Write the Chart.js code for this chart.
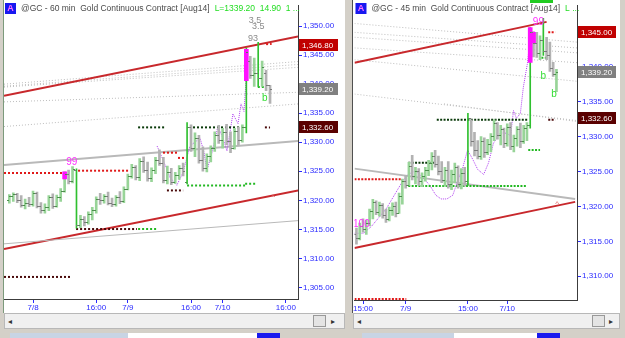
<!DOCTYPE html>
<html><head><meta charset="utf-8">
<script src="https://cdn.jsdelivr.net/npm/chart.js@4.4.0/dist/chart.umd.min.js"></script>
<style>
html,body{margin:0;padding:0;background:#d4d0c8;width:625px;height:338px;overflow:hidden}
canvas{position:absolute;display:block;background:#fff}
.d{position:absolute;box-sizing:border-box}
</style></head><body>
<div class="d" style="left:3px;top:0;width:1px;height:313px;background:#7c9a7c"></div>
<canvas id="c1" width="341" height="313" style="left:4px;top:0"></canvas>
<div class="d" style="left:352px;top:0;width:1px;height:313px;background:#505050"></div>
<canvas id="c2" width="267" height="313" style="left:353px;top:0"></canvas>
<!-- scrollbars -->
<div class="d" style="left:4px;top:313px;width:341px;height:16px;background:#f0f0f0;border:1px solid #b8b8b8"></div>
<div class="d" style="left:8px;top:317px;font:8px 'DejaVu Sans';color:#333">◂</div>
<div class="d" style="left:313px;top:315px;width:13px;height:12px;background:#e4e4e4;border:1px solid #999"></div>
<div class="d" style="left:331px;top:317px;font:8px 'DejaVu Sans';color:#333">▸</div>
<div class="d" style="left:353px;top:313px;width:267px;height:16px;background:#f0f0f0;border:1px solid #b8b8b8"></div>
<div class="d" style="left:357px;top:317px;font:8px 'DejaVu Sans';color:#333">◂</div>
<div class="d" style="left:592px;top:315px;width:13px;height:12px;background:#e4e4e4;border:1px solid #999"></div>
<div class="d" style="left:609px;top:317px;font:8px 'DejaVu Sans';color:#333">▸</div>
<!-- bottom tabs -->
<div class="d" style="left:10px;top:333px;width:118px;height:5px;background:#c8d4e4"></div>
<div class="d" style="left:128px;top:333px;width:129px;height:5px;background:#fff"></div>
<div class="d" style="left:257px;top:333px;width:23px;height:5px;background:#1a1aee"></div>
<div class="d" style="left:362px;top:333px;width:92px;height:5px;background:#c8d4e4"></div>
<div class="d" style="left:454px;top:333px;width:83px;height:5px;background:#fff"></div>
<div class="d" style="left:537px;top:333px;width:23px;height:5px;background:#1a1aee"></div>
<div class="d" style="left:530px;top:0;width:23px;height:3px;background:#22cc22"></div>
<script>
// ================= LEFT PANEL : @GC 60 min =================
const L_open  = [1320.0,1320.8,1321.0,1320.0,1319.2,1319.6,1319.3,1321.2,1319.0,1318.3,1318.9,1320.5,1319.0,1320.6,1321.6,1324.5,1323.3,1325.2,1315.8,1316.8,1316.2,1317.6,1318.4,1320.3,1320.0,1320.7,1319.6,1319.4,1320.5,1319.8,1322.0,1324.2,1325.8,1324.0,1326.8,1325.3,1323.8,1325.2,1327.0,1326.5,1323.5,1324.8,1323.2,1324.4,1325.6,1323.2,1332.6,1329.0,1330.8,1327.0,1325.6,1327.6,1329.0,1331.3,1330.4,1331.8,1330.2,1329.0,1331.9,1330.4,1332.7,1344.0,1341.6,1342.0,1341.0,1342.0,1339.8];
const L_high  = [1321.0,1321.3,1321.2,1320.8,1320.2,1320.5,1321.6,1321.4,1319.6,1319.4,1320.8,1321.1,1320.9,1322.0,1324.9,1325.2,1325.8,1325.4,1317.4,1317.2,1318.0,1318.8,1320.6,1321.2,1321.0,1321.4,1320.4,1320.8,1321.5,1322.3,1324.5,1326.2,1326.0,1327.2,1327.5,1326.6,1325.6,1327.4,1328.7,1327.4,1325.9,1325.5,1324.8,1326.0,1326.4,1333.4,1333.0,1331.6,1331.2,1329.2,1328.0,1329.4,1331.8,1332.9,1332.4,1333.1,1331.8,1332.4,1332.6,1333.0,1346.2,1344.8,1344.5,1347.2,1344.0,1342.4,1339.8];
const L_low   = [1319.5,1319.8,1319.6,1318.8,1318.5,1318.9,1319.0,1318.7,1317.8,1317.8,1318.2,1318.6,1318.8,1319.8,1321.4,1322.8,1323.0,1315.2,1315.3,1315.6,1315.9,1316.6,1317.8,1319.3,1319.5,1319.2,1318.9,1319.0,1319.4,1319.6,1321.8,1323.8,1323.5,1323.4,1324.8,1323.3,1323.2,1324.6,1326.0,1323.0,1322.8,1322.7,1322.9,1323.6,1324.2,1322.8,1328.4,1327.5,1326.4,1325.0,1324.9,1326.6,1328.4,1329.8,1329.0,1329.6,1328.2,1328.8,1329.5,1330.0,1331.6,1341.0,1339.6,1339.6,1339.6,1338.9,1336.7];
const L_close = [1320.8,1321.0,1320.0,1319.2,1319.6,1319.3,1321.2,1319.0,1318.3,1318.9,1320.5,1319.0,1320.6,1321.6,1324.5,1323.3,1325.4,1315.8,1316.8,1316.2,1317.6,1318.4,1320.3,1320.0,1320.7,1319.6,1319.4,1320.5,1319.8,1322.0,1324.2,1325.8,1324.0,1326.8,1325.3,1323.8,1325.2,1327.0,1326.5,1323.5,1324.8,1323.2,1324.4,1325.6,1325.0,1332.6,1329.0,1330.8,1327.0,1325.6,1327.6,1329.0,1331.3,1330.4,1331.8,1330.2,1329.0,1331.9,1330.4,1332.7,1345.5,1341.6,1342.0,1341.0,1343.0,1339.8,1339.2];
const L_hlIdx = [14, 60];
const L_hlLo  = [1323.7, 1340.6];
const L_hlHi  = [1324.9, 1346.0];
const L_timePos = [6, 22, 30, 46, 54, 70];
const L_timeLbl = ['7/8','16:00','7/9','16:00','7/10','16:00'];
const L_priceTicks = [1305,1310,1315,1320,1325,1330,1335,1340,1345,1350];
const L_boxPrices = [1346.8, 1339.2, 1332.6];
const L_redTrends  = [[[-1.35,1338.0],[73.1,1348.2]], [[-1.35,1311.6],[73.1,1321.7]]];
const L_grayTrends = [[[-1.35,1326.1],[73.1,1330.2]], [[-1.35,1312.5],[73.1,1316.5]]];
const L_fanLines   = [[[-1.35,1340.0],[73.1,1343.9]], [[-1.35,1339.65],[73.1,1343.4]], [[-1.35,1339.5],[73.1,1342.9]], [[-1.35,1336.95],[73.1,1338.6]], [[-1.35,1332.7],[73.1,1336.6]]];
const L_redLevels     = [[1324.7,-1.35,13.6],[1325.1,17.4,30.5],[1328.2,38.9,42.5],[1327.3,42.7,44.5],[1346.9,65.0,66.4]];
const L_darkRedLevels = [[1306.8,-1.35,15.4],[1315.05,16.9,32.3],[1321.7,39.9,44.0],[1332.56,64.7,66.0]];
const L_darkGrnLevels = [[1332.56,32.6,39.4],[1332.56,46.5,59.7]];
const L_greenLevels   = [[1315.05,32.6,37.4],[1322.55,45.0,59.7],[1322.85,59.7,62.4],[1339.5,62.9,64.5]];
const L_curve = [[37.4,1329.35],[38.9,1327.0],[40.7,1323.9],[42.4,1322.6],[44.0,1324.8],[45.7,1329.35],[48.3,1330.7],[49.3,1328.2],[50.0,1325.1],[51.3,1328.2],[52.8,1332.7],[54.1,1330.7],[55.1,1328.5],[56.6,1334.9],[57.9,1333.2],[58.65,1336.6],[59.4,1335.3],[60.2,1343.4]];
const L_notesMag   = [[15.8,1326.5,'99']];
const L_notesGray  = [[61.7,1347.8,'93'],[62.2,1351.0,'3.5'],[63.0,1350.0,'3.5']];
const L_notesGreen = [[64.7,1337.5,'b']];
const L_notesRed   = [[66.8,1320.6,'^']];

// ================= RIGHT PANEL : @GC 45 min =================
const R_open  = [1316.0,1315.5,1317.2,1316.8,1317.6,1319.3,1320.6,1319.2,1320.2,1318.8,1318.2,1319.5,1320.1,1319.0,1321.5,1323.6,1323.0,1325.8,1324.4,1325.0,1323.6,1324.4,1325.2,1326.2,1327.2,1326.0,1325.0,1323.8,1325.2,1323.2,1324.6,1325.7,1323.2,1324.8,1323.6,1332.6,1329.4,1328.0,1327.2,1329.4,1327.8,1328.9,1330.1,1332.0,1330.2,1331.0,1329.0,1331.4,1328.6,1329.8,1331.0,1329.4,1331.2,1331.6,1345.0,1343.4,1342.0,1343.8,1342.2,1341.6,1339.8,1339.0];
const R_high  = [1316.9,1317.6,1318.2,1318.0,1319.6,1321.0,1320.8,1320.6,1320.4,1319.6,1319.9,1320.5,1320.6,1321.9,1323.9,1324.4,1326.3,1327.3,1325.6,1325.4,1324.8,1325.6,1326.6,1327.7,1328.0,1327.2,1326.4,1325.6,1326.4,1325.2,1326.2,1325.8,1325.4,1325.6,1333.3,1332.4,1330.6,1329.4,1330.0,1329.8,1329.6,1330.4,1332.4,1332.0,1331.6,1331.2,1331.8,1332.0,1330.2,1331.4,1331.9,1331.6,1332.0,1345.6,1345.0,1344.9,1344.4,1346.9,1344.2,1343.5,1340.6,1339.6];
const R_low   = [1314.6,1315.2,1316.3,1316.0,1317.2,1318.2,1318.8,1318.6,1318.3,1317.7,1317.9,1318.7,1318.5,1319.0,1320.3,1322.6,1323.0,1323.8,1323.2,1323.0,1322.8,1323.6,1324.4,1325.2,1325.6,1324.5,1323.4,1322.9,1322.6,1322.4,1323.4,1322.6,1322.5,1322.9,1323.0,1328.6,1327.2,1326.8,1326.7,1327.0,1327.4,1327.8,1329.4,1329.6,1328.8,1328.4,1328.6,1328.1,1327.8,1328.6,1328.4,1329.0,1329.4,1331.2,1341.4,1341.3,1341.0,1341.6,1341.0,1339.3,1338.6,1336.4];
const R_close = [1315.5,1317.2,1316.8,1317.6,1319.3,1320.6,1319.2,1320.2,1318.8,1318.2,1319.5,1320.1,1319.0,1321.5,1323.6,1323.0,1325.8,1324.4,1325.0,1323.6,1324.4,1325.2,1326.2,1327.2,1326.0,1325.0,1323.8,1325.2,1323.2,1324.6,1325.7,1323.2,1324.8,1323.6,1332.6,1329.4,1328.0,1327.2,1329.4,1327.8,1328.9,1330.1,1332.0,1330.2,1331.0,1329.0,1331.4,1328.6,1329.8,1331.0,1329.4,1331.2,1331.6,1345.0,1343.4,1342.0,1343.8,1342.2,1341.6,1339.8,1339.0,1339.2];
const R_hlIdx = [53, 54];
const R_hlLo  = [1340.6, 1343.4];
const R_hlHi  = [1345.6, 1344.9];
const R_timePos = [2, 15, 34, 46];
const R_timeLbl = ['15:00','7/9','15:00','7/10'];
const R_priceTicks = [1310,1315,1320,1325,1330,1335,1340];
const R_boxPrices = [1345.0, 1339.2, 1332.6];
const R_redTrends  = [[[-0.6,1340.56],[58,1346.4]], [[-0.6,1314.04],[66.7,1320.64]]];
const R_grayTrends = [[[-0.6,1325.4],[66.7,1321.06]]];
const R_fanLines   = [[[-0.6,1346.17],[67.3,1343.5]], [[-0.6,1344.9],[67.3,1342.67]], [[-0.6,1344.2],[67.3,1341.97]], [[-0.6,1342.67],[67.3,1340.56]], [[-0.6,1340.98],[67.3,1337.9]], [[-0.6,1336.07],[67.3,1332.28]], [[26.7,1334.67],[67.3,1332.14]]];
const R_redLevels     = [[1323.87,-0.6,13.6],[1344.9,58.5,60.6],[1306.75,-0.6,15.2]];
const R_darkRedLevels = [[1332.4,58.5,60.6]];
const R_darkGrnLevels = [[1326.25,15.8,24.2],[1332.4,24.5,52.1]];
const R_greenLevels   = [[1322.9,15.8,52.1],[1328.07,52.4,56.0],[1341.26,56.4,58.5]];
const R_curve = [[-0.6,1316.15],[2.1,1316.15],[4.5,1317.1],[9.1,1319.66],[12.1,1322.04],[14.2,1323.7],[15.8,1324.6],[18.2,1325.1],[20.3,1324.1],[22.4,1323.0],[24.2,1321.6],[25.8,1321.06],[27.6,1321.06],[29.4,1321.6],[30.9,1323.7],[32.4,1325.5],[33.9,1328.07],[35.5,1326.7],[37.0,1325.27],[38.8,1324.57],[40.3,1326.25],[41.8,1329.05],[43.9,1330.5],[46.1,1330.46],[47.0,1330.04],[47.9,1333.7],[48.8,1332.6],[50.0,1333.3],[50.9,1337.05],[52.1,1340.3],[53.0,1344.1]];
const R_notesMag   = [[55.5,1346.3,'99'],[1.5,1317.4,'100']];
const R_notesGray  = [];
const R_notesGreen = [[57.0,1338.6,'b'],[60.3,1336.1,'b']];
const R_notesRed   = [[61.2,1320.36,'^']];

// ================= drawing =================
const FONT = '"Liberation Sans", Arial, sans-serif';
const BLUE = '#2a2aff';
const fmt = v => v.toLocaleString('en-US',{minimumFractionDigits:2,maximumFractionDigits:2});

function buildChart(id, P) {
  const n = P.open.length;
  const normal = [], big = [];
  for (let i = 0; i < n; i++) {
    const pt = {x: i, y: [P.low[i], P.high[i]]};
    if (P.high[i] - P.low[i] > 5) big.push(pt); else normal.push(pt);
  }
  const upCol = '#98d498', dnCol = '#b2b2b2';
  const colOf = ctx => { const r = ctx.raw; if (!r) return upCol; return P.close[r.x] >= P.open[r.x] ? upCol : dnCol; };
  const ds = [];
  const line = (pts, color, w, dash, order) => ({type:'line', data: pts.map(p => ({x:p[0], y:p[1]})), borderColor: color, borderWidth: w, borderDash: dash, pointRadius: 0, fill: false, tension: 0, order});
  P.fan.forEach(l => ds.push(line(l, '#bdbdbd', 1, [1,2], 5)));
  P.gray.forEach((l,k) => ds.push(line(l, '#b9b9b9', k === 0 ? 2 : 1, [], 4)));
  P.red.forEach(l => ds.push(line(l, '#c8282c', 2, [], 4)));
  const lev = (arr, color) => arr.forEach(a => ds.push(line([[a[1],a[0]],[a[2],a[0]]], color, 2, [2, P.gap], 2)));
  lev(P.redL, '#e01818'); lev(P.darkRedL, '#4a0a0a'); lev(P.darkGrnL, '#0a3a0a'); lev(P.greenL, '#22b822');
  ds.push(line(P.curve, '#b040f0', 1, [1,1], 3));
  ds.push({type:'bar', data: normal, backgroundColor: colOf, barThickness: 2, grouped: false, order: 1});
  ds.push({type:'bar', data: big, backgroundColor: '#30c030', barThickness: 1, grouped: false, order: 1});
  ds.push({type:'bar', data: P.hlIdx.map((x,k) => ({x, y:[P.hlLo[k], P.hlHi[k]]})), backgroundColor: '#ff10ff', barThickness: 4, grouped: false, order: 0});

  const ohlcTicks = {
    id: 'ohlcTicks',
    afterDatasetsDraw(chart) {
      const c = chart.ctx, xs = chart.scales.x, ys = chart.scales.y, a = chart.chartArea;
      c.save(); c.beginPath(); c.rect(a.left, a.top, a.right - a.left, a.bottom - a.top); c.clip();
      for (let i = 0; i < n; i++) {
        const x = Math.round(xs.getPixelForValue(i));
        const yo = Math.round(ys.getPixelForValue(P.open[i])), yc = Math.round(ys.getPixelForValue(P.close[i]));
        c.fillStyle = P.close[i] >= P.open[i] ? '#4e8e4e' : '#7a7a7a';
        c.fillRect(x - 2, yo, 2, 1);
        c.fillRect(x, yc, 2, 1);
      }
      const note = (arr, color, size) => { c.fillStyle = color; c.font = size + 'px ' + FONT; c.textAlign = 'center'; c.textBaseline = 'middle';
        arr.forEach(t => c.fillText(t[2], xs.getPixelForValue(t[0]), ys.getPixelForValue(t[1]))); };
      note(P.notesMag, '#ff30ff', 10); note(P.notesGray, '#8a8a8a', 9); note(P.notesGreen, '#33dd33', 10); note(P.notesRed, '#e06060', 8);
      c.restore();
    },
    afterDraw(chart) {
      const c = chart.ctx, ys = chart.scales.y, a = chart.chartArea;
      // value boxes
      const bc = ['#c00000', '#808080', '#5a0000'];
      c.font = '8px ' + FONT; c.textBaseline = 'middle'; c.textAlign = 'left';
      P.boxes.forEach((p, k) => {
        const y = Math.round(ys.getPixelForValue(p));
        c.fillStyle = bc[k]; c.fillRect(a.right + 1, y - 6, P.boxW, 12);
        c.fillStyle = '#fff'; c.fillText(fmt(p), a.right + 4, y + 0.5);
      });
      // title
      c.fillStyle = '#1818f0'; c.fillRect(a.left + 1, 3, 11, 11);
      c.fillStyle = '#ff70ff'; c.font = 'bold 9px ' + FONT; c.textAlign = 'center'; c.fillText('A', a.left + 6.5, 9);
      c.textAlign = 'left'; c.font = '8.5px ' + FONT; c.fillStyle = '#4a4a4a';
      c.fillText(P.title, a.left + 17, 9);
      const w = c.measureText(P.title).width;
      c.fillStyle = '#22dd22'; c.fillText(P.title2, a.left + 17 + w + 5, 9);
    }
  };

  return new Chart(document.getElementById(id), {
    type: 'bar',
    data: {datasets: ds},
    plugins: [ohlcTicks],
    options: {
      responsive: false, animation: false, devicePixelRatio: 1,
      layout: {padding: 0},
      plugins: {legend: {display: false}, tooltip: {enabled: false}, title: {display: false}},
      scales: {
        x: {type: 'linear', min: P.xmin, max: P.xmax, offset: false, bounds: 'data',
          afterFit(ax) { ax.height = P.xh; },
          afterBuildTicks(ax) { ax.ticks = P.timePos.map(v => ({value: v})); },
          ticks: {autoSkip: false, maxRotation: 0, minRotation: 0, color: BLUE, padding: 0, font: {size: 8, family: FONT}, callback: (v, i) => P.timeLbl[i]},
          grid: {drawOnChartArea: false, offset: false, tickLength: 4, tickColor: BLUE},
          border: {display: true, color: '#3c3c3c'}},
        y: {type: 'linear', position: 'right', min: P.ymin, max: P.ymax, bounds: 'data', beginAtZero: false,
          afterFit(ax) { ax.width = P.yw; },
          afterBuildTicks(ax) { ax.ticks = P.priceTicks.map(v => ({value: v})); },
          ticks: {color: BLUE, padding: 1, font: {size: 8, family: FONT}, callback: v => fmt(v)},
          grid: {drawOnChartArea: false, tickLength: 4, tickColor: BLUE},
          border: {display: true, color: '#3c3c3c'}}
      }
    }
  });
}

buildChart('c1', {open: L_open, high: L_high, low: L_low, close: L_close, hlIdx: L_hlIdx, hlLo: L_hlLo, hlHi: L_hlHi,
  timePos: L_timePos, timeLbl: L_timeLbl, priceTicks: L_priceTicks, boxes: L_boxPrices,
  red: L_redTrends, gray: L_grayTrends, fan: L_fanLines, redL: L_redLevels, darkRedL: L_darkRedLevels, darkGrnL: L_darkGrnLevels, greenL: L_greenLevels,
  curve: L_curve, notesMag: L_notesMag, notesGray: L_notesGray, notesGreen: L_notesGreen, notesRed: L_notesRed,
  xmin: -1.35, xmax: 73.08, ymin: 1303.0, ymax: 1353.5, xh: 14, yw: 47, boxW: 39, gap: 2,
  title: '@GC - 60 min  Gold Continuous Contract [Aug14]', title2: 'L=1339.20  14.90  1 ...'});

buildChart('c2', {open: R_open, high: R_high, low: R_low, close: R_close, hlIdx: R_hlIdx, hlLo: R_hlLo, hlHi: R_hlHi,
  timePos: R_timePos, timeLbl: R_timeLbl, priceTicks: R_priceTicks, boxes: R_boxPrices,
  red: R_redTrends, gray: R_grayTrends, fan: R_fanLines, redL: R_redLevels, darkRedL: R_darkRedLevels, darkGrnL: R_darkGrnLevels, greenL: R_greenLevels,
  curve: R_curve, notesMag: R_notesMag, notesGray: R_notesGray, notesGreen: R_notesGreen, notesRed: R_notesRed,
  xmin: -0.6, xmax: 67.27, ymin: 1306.6, ymax: 1348.7, xh: 13, yw: 43, boxW: 38, gap: 1.4,
  title: '@GC - 45 min  Gold Continuous Contract [Aug14]', title2: 'L ...'});
</script>
</body></html>
